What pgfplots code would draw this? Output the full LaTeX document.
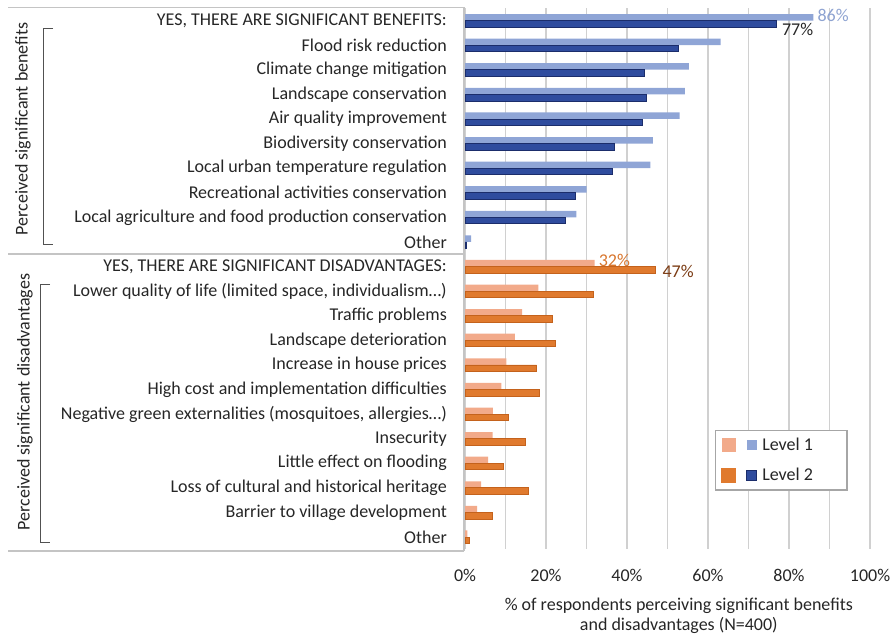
\documentclass[border=0pt]{standalone}
\usepackage{fontspec}
\setmainfont{Carlito}
\usepackage{pgfplots}
\usepackage{pgfplotstable}
\pgfplotsset{compat=1.18}

\definecolor{bL}{HTML}{8FA5D6}
\definecolor{bD}{HTML}{2F4C9E}
\definecolor{bDe}{HTML}{1B2D6B}
\definecolor{oL}{HTML}{F2AA8A}
\definecolor{oD}{HTML}{E07A2E}
\definecolor{oDe}{HTML}{C4621C}
\definecolor{gridc}{HTML}{D0D0D0}
\definecolor{boxc}{HTML}{C4C4C4}
\definecolor{txt}{HTML}{262626}
\definecolor{lab86}{HTML}{8EA3D1}
\definecolor{lab32}{HTML}{D8762E}
\definecolor{lab47}{HTML}{7A3A12}

\pgfplotstableread{
y l1 l2
0 86 77
1 63.1 52.8
2 55.3 44.4
3 54.3 44.9
4 53.0 43.8
5 46.4 37.0
6 45.8 36.5
7 30.0 27.2
8 27.5 24.7
9 1.5 0.4
}\benefits

\pgfplotstableread{
y l1 l2
10 32 47
11 18.1 31.8
12 14.1 21.6
13 12.3 22.2
14 10.2 17.7
15 9.0 18.4
16 6.9 10.8
17 6.8 15.0
18 5.7 9.5
19 4.0 15.7
20 3.0 6.8
21 0.6 1.2
}\disadv

\begin{document}
\fontsize{18}{20}\selectfont
\begin{tikzpicture}
\useasboundingbox (0,0) rectangle (896pt,634pt);
\begin{axis}[
  at={(465pt,84.7pt)}, anchor=south west,
  width=405pt, height=541pt, scale only axis,
  xmin=0, xmax=100, ymin=-0.5, ymax=21.5, y dir=reverse,
  axis line style={draw=none},
  clip=false,
  xbar,
  xtick={0,20,40,60,80,100},
  xticklabels={0\%,20\%,40\%,60\%,80\%,100\%},
  minor xtick={10,30,50,70,90},
  xmajorgrids, xminorgrids,
  major grid style={gridc, line width=1.5pt},
  minor grid style={gridc, line width=1.5pt},
  major tick length=0pt, minor tick length=0pt,
  ytick={0,...,21},
  yticklabels={
    {YES, THERE ARE SIGNIFICANT BENEFITS:},
    Flood risk reduction,
    Climate change mitigation,
    Landscape conservation,
    Air quality improvement,
    Biodiversity conservation,
    Local urban temperature regulation,
    Recreational activities conservation,
    Local agriculture and food production conservation,
    Other,
    {YES, THERE ARE SIGNIFICANT DISADVANTAGES:},
    {Lower quality of life (limited space, individualism…)},
    Traffic problems,
    Landscape deterioration,
    Increase in house prices,
    High cost and implementation difficulties,
    {Negative green externalities (mosquitoes, allergies…)},
    Insecurity,
    Little effect on flooding,
    Loss of cultural and historical heritage,
    Barrier to village development,
    Other},
  yticklabel style={font=\fontsize{18}{20}\selectfont, text=txt, inner sep=0pt, xshift=-18pt},
  xticklabel style={font=\fontsize{18}{20}\selectfont, text=txt, yshift=-14pt},
  xlabel={\% of respondents perceiving significant benefits\\and disadvantages (N=400)},
  xlabel style={font=\fontsize{18}{20}\selectfont, text=txt, align=center,
    at={(axis description cs:0.528,0)}, anchor=north, yshift=-42pt},
  legend style={at={(axis description cs:0.617,0.2205)}, anchor=north west,
    draw=gray!70, line width=1.2pt, inner xsep=6pt, inner ysep=5pt,
    font=\fontsize{18}{20}\selectfont, text=txt, row sep=11pt,
    cells={anchor=west}},
]
\addplot[bar width=6.5pt, bar shift=3.3pt, fill=bL, draw=none, forget plot] table[x=l1,y=y]{\benefits};
\addplot[bar width=6.5pt, bar shift=-3.3pt, fill=bD, draw=bDe, line width=0.8pt, forget plot] table[x=l2,y=y]{\benefits};
\addplot[bar width=6.5pt, bar shift=3.3pt, fill=oL, draw=none,
  legend image code/.code={
    \fill[oL] (0pt,-7pt) rectangle (14pt,7pt);
    \fill[bL] (25pt,-5pt) rectangle (35pt,5pt);}] table[x=l1,y=y]{\disadv};
\addlegendentry{\hspace*{3pt}Level 1\hspace*{26pt}}
\addplot[bar width=6.5pt, bar shift=-3.3pt, fill=oD, draw=oDe, line width=0.8pt,
  legend image code/.code={
    \fill[oD] (0pt,-7pt) rectangle (14pt,7pt);
    \filldraw[fill=bD, draw=bDe, line width=0.8pt] (25pt,-5pt) rectangle (35pt,5pt);}] table[x=l2,y=y]{\disadv};
\addlegendentry{\hspace*{3pt}Level 2\hspace*{26pt}}

\node[anchor=west, text=lab86, inner sep=0pt, font=\fontsize{18}{20}\selectfont] at (axis cs:86,-0.22) [xshift=4pt] {86\%};
\node[anchor=west, text=txt, inner sep=0pt, font=\fontsize{18}{20}\selectfont] at (axis cs:77,0.35) [xshift=5pt] {77\%};
\node[anchor=west, text=lab32, inner sep=0pt, font=\fontsize{18}{20}\selectfont] at (axis cs:32,9.74) [xshift=4pt] {32\%};
\node[anchor=west, text=lab47, inner sep=0pt, font=\fontsize{18}{20}\selectfont] at (axis cs:47,10.22) [xshift=7pt] {47\%};
\end{axis}

% label box
\draw[boxc, line width=1.5pt] (8pt,626.5pt) -- (464pt,626.5pt);
\draw[boxc, line width=1.5pt] (8pt,380pt) -- (464pt,380pt);
\draw[boxc, line width=1.5pt] (8pt,83pt) -- (464pt,83pt);
\draw[boxc, line width=1.5pt] (464pt,626.5pt) -- (464pt,83pt);
% brackets
\draw[txt!80, line width=1pt] (53pt,605pt) -- (43pt,605pt) -- (43pt,389pt) -- (53pt,389pt);
\draw[txt!80, line width=1pt] (50pt,349pt) -- (40pt,349pt) -- (40pt,91pt) -- (50pt,91pt);
\node[rotate=90, text=txt, font=\fontsize{18}{20}\selectfont] at (23pt,505pt) {Perceived significant benefits};
\node[rotate=90, text=txt, font=\fontsize{18}{20}\selectfont] at (25pt,232pt) {Perceived significant disadvantages};
\end{tikzpicture}
\end{document}
